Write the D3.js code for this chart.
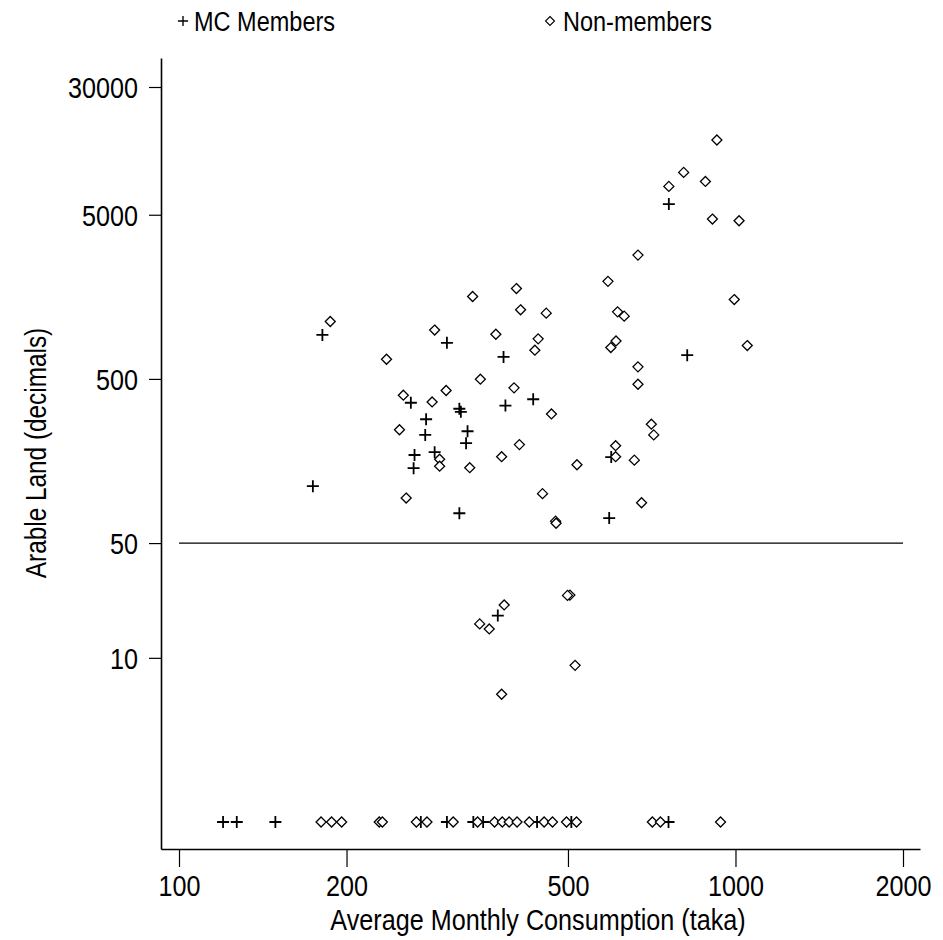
<!DOCTYPE html>
<html>
<head>
<meta charset="utf-8">
<script src="https://cdn.jsdelivr.net/npm/d3@7"></script>
<style>
  html, body { margin: 0; padding: 0; background: #fff; }
  svg { display: block; }
  text { font-family: "Liberation Sans", Arial, sans-serif; fill: #000; }
</style>
</head>
<body>
<svg id="chart" width="943" height="940"></svg>
<script>
// Households that belong to a microcredit (MC) group: consumption (taka) and arable land (decimals)
const memberConsumption = [759, 181, 303, 383, 819, 433, 386, 319, 321, 261, 278, 277, 330, 328, 288, 265, 264, 598, 174, 319, 593, 374,
  120, 127, 149, 272, 303, 338, 352, 440, 507, 758];
const memberLand = [5810, 927, 829, 681, 698, 376, 344, 329, 315, 358, 284, 228, 240, 203, 179, 172, 143, 167, 111, 76, 71, 18.1,
  0, 0, 0, 0, 0, 0, 0, 0, 0, 0];

// Households outside any group
const nonMemberConsumption = [926, 807, 759, 883, 909, 1015, 668, 590, 404, 337, 411, 457, 614, 631, 995, 187, 288, 371, 442, 610,
  597, 1050, 436, 236, 668, 668, 348, 302, 400, 253, 285, 467, 706, 249, 713, 409, 609, 380, 609, 658,
  294, 294, 333, 519, 256, 450, 678, 475, 476, 504, 499, 384, 347, 361, 515, 380,
  180, 188, 196, 229, 232, 267, 279, 311, 344, 369, 381, 392, 405, 426, 453, 469, 497, 518, 709, 733, 940];
const nonMemberLand = [14270, 9055, 7440, 7980, 4707, 4596, 2839, 1965, 1776, 1588, 1318, 1258, 1281, 1206, 1522, 1118, 992, 936, 877, 852,
  776, 798, 748, 659, 592, 464, 498, 425, 441, 398, 362, 306, 265, 245, 228, 199, 196, 168, 168, 160,
  162, 147, 144, 150, 94, 100, 88, 68, 66, 24.1, 24, 21, 16.1, 15, 9, 6,
  0, 0, 0, 0, 0, 0, 0, 0, 0, 0, 0, 0, 0, 0, 0, 0, 0, 0, 0, 0, 0];

// Axis ticks and the 50-decimal landholding cutoff
const xTicks = [100, 200, 500, 1000, 2000];
const yTicks = [10, 50, 500, 5000, 30000];
const cutoffConsumption = [100, 2000];
const cutoffLand = 50;
const landlessLevel = 1;   // landless households sit on this baseline of the log axis

const legendLabels = ["MC Members", "Non-members"];
const xTitle = "Average Monthly Consumption (taka)";
const yTitle = "Arable Land (decimals)";

// Condensed lettering: regular sans squeezed horizontally
const FONT = 30, SQUEEZE = 0.84;

const svg = d3.select("#chart");

// Log scales, then widened to the full extent of the axis lines
const x = d3.scaleLog().domain([100, 2000]).range([179, 903]);
x.domain([x.invert(161), x.invert(920)]).range([161, 920]);
const y = d3.scaleLog().domain([1, 30000]).range([822, 87]);
y.domain([y.invert(849), y.invert(58)]).range([849, 58]);

const plotY = v => y(v > 0 ? v : landlessLevel);

function label(px, py, str, opts = {}) {
  const t = svg.append("text")
    .attr("transform", `translate(${px},${py})${opts.rotate ? " rotate(-90)" : ""} scale(${SQUEEZE},1)`)
    .attr("font-size", opts.size || FONT)
    .attr("text-anchor", opts.anchor || "start")
    .text(str);
  return t;
}

// Y axis
const yAxis = svg.append("g")
  .attr("transform", "translate(161,0)")
  .attr("font-family", null)
  .call(d3.axisLeft(y).tickValues(yTicks).tickFormat(d3.format("d")).tickSize(12).tickSizeOuter(0));
yAxis.attr("font-family", null).attr("font-size", null);
yAxis.select(".domain").attr("stroke", "#000").attr("stroke-width", 1.6);
yAxis.selectAll(".tick line").attr("stroke", "#000").attr("stroke-width", 1.2);
yAxis.selectAll(".tick text")
  .attr("font-size", FONT)
  .attr("x", -23 / SQUEEZE)
  .attr("dy", "0.36em")
  .attr("transform", `scale(${SQUEEZE},1)`);

// X axis
const xAxis = svg.append("g")
  .attr("transform", "translate(0,849)")
  .call(d3.axisBottom(x).tickValues(xTicks).tickFormat(d3.format("d")).tickSize(18).tickPadding(8).tickSizeOuter(0));
xAxis.attr("font-family", null).attr("font-size", null);
xAxis.select(".domain").attr("stroke", "#000").attr("stroke-width", 1.6);
xAxis.selectAll(".tick line").attr("stroke", "#000").attr("stroke-width", 1.2);
xAxis.selectAll(".tick text")
  .attr("font-size", FONT)
  .attr("transform", `scale(${SQUEEZE},1)`);

// Cutoff line at 50 decimals
svg.append("line")
  .attr("x1", x(cutoffConsumption[0])).attr("x2", x(cutoffConsumption[1]))
  .attr("y1", y(cutoffLand)).attr("y2", y(cutoffLand))
  .attr("stroke", "#000").attr("stroke-width", 1.3);

// Marker shapes
const plusPath = (() => { const p = d3.path(); p.moveTo(-6, 0); p.lineTo(6, 0); p.moveTo(0, -6); p.lineTo(0, 6); return p.toString(); })();
const diamondPath = (() => { const p = d3.path(); p.moveTo(0, -5); p.lineTo(5, 0); p.lineTo(0, 5); p.lineTo(-5, 0); p.closePath(); return p.toString(); })();

// MC members (plus signs)
svg.append("g").selectAll("path")
  .data(d3.zip(memberConsumption, memberLand))
  .join("path")
  .attr("d", plusPath)
  .attr("transform", d => `translate(${x(d[0])},${plotY(d[1])})`)
  .attr("fill", "none").attr("stroke", "#000").attr("stroke-width", 1.8);

// Non-members (hollow diamonds, drawn on top)
svg.append("g").selectAll("path")
  .data(d3.zip(nonMemberConsumption, nonMemberLand))
  .join("path")
  .attr("d", diamondPath)
  .attr("transform", d => `translate(${x(d[0])},${plotY(d[1])})`)
  .attr("fill", "#fff").attr("stroke", "#000").attr("stroke-width", 1.3);

// Legend
svg.append("path").attr("d", plusPath).attr("transform", "translate(183,21) scale(0.85)")
  .attr("fill", "none").attr("stroke", "#000").attr("stroke-width", 1.6);
label(194, 31, legendLabels[0], { size: 28 });
svg.append("path").attr("d", diamondPath).attr("transform", "translate(550,21) scale(0.9)")
  .attr("fill", "#fff").attr("stroke", "#000").attr("stroke-width", 1.2);
label(563, 31, legendLabels[1], { size: 28 });

// Axis titles
label(538, 930, xTitle, { anchor: "middle" });
label(46, 453, yTitle, { anchor: "middle", rotate: true, size: 29 });
</script>
</body>
</html>
